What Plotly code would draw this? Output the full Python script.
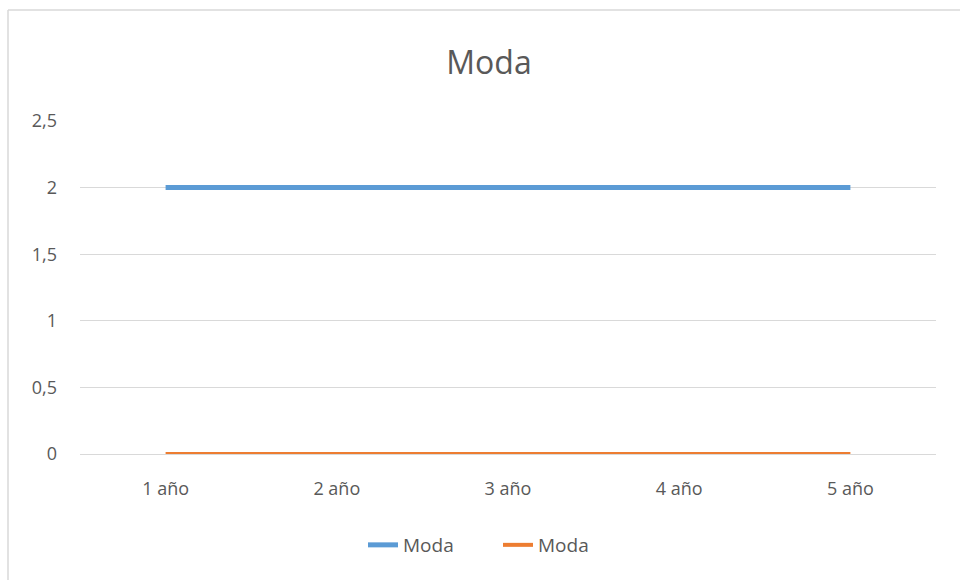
import plotly.graph_objects as go

categories = ["1 año", "2 año", "3 año", "4 año", "5 año"]
serie1 = [2, 2, 2, 2, 2]
serie2 = [0, 0, 0, 0, 0]
y_ticks = [0, 0.5, 1, 1.5, 2, 2.5]
y_labels = ["0", "0,5", "1", "1,5", "2", "2,5"]

FONT = "Open Sans"
fig = go.Figure()
fig.add_trace(go.Scatter(x=categories, y=serie1, mode="lines", name="Moda",
                         line=dict(color="#5B9BD5", width=5)))
fig.add_trace(go.Scatter(x=categories, y=serie2, mode="lines", name="Moda",
                         line=dict(color="#ED7D31", width=4)))

L, R, T, B = 80, 24, 121, 126
W, H = 960, 580
pw, ph = W - L - R, H - T - B
def px(x):
    return (x - L) / pw
def py(y):
    return (H - B - y) / ph

fig.update_layout(
    width=W, height=H,
    margin=dict(l=L, r=R, t=T, b=B),
    paper_bgcolor="white", plot_bgcolor="white",
    title=dict(text="Moda", x=489 / W, xanchor="center", y=1 - 63 / H, yanchor="middle",
               font=dict(family=FONT, size=32, color="#595959")),
    font=dict(family=FONT, size=18, color="#595959"),
    xaxis=dict(range=[-0.5, 4.5], showgrid=False, zeroline=False, showline=False,
               ticks="", ticklabelstandoff=22,
               tickfont=dict(family=FONT, size=18, color="#595959")),
    yaxis=dict(range=[0, 2.5], tickvals=y_ticks, ticktext=y_labels,
               showgrid=True, gridcolor="#D9D9D9", gridwidth=1,
               zeroline=True, zerolinecolor="#D9D9D9", zerolinewidth=1,
               showline=False, ticks="", ticklabelstandoff=22,
               tickfont=dict(family=FONT, size=18, color="#595959")),
    legend=dict(orientation="h", x=px(498), xanchor="center", y=py(545), yanchor="middle",
                font=dict(family=FONT, size=19, color="#595959"),
                entrywidth=90, entrywidthmode="pixels"),
    showlegend=True,
    shapes=[
        dict(type="line", xref="paper", yref="paper", x0=px(8), x1=px(8),
             y0=py(10), y1=py(H + 5), line=dict(color="#D9D9D9", width=1.5)),
        dict(type="line", xref="paper", yref="paper", x0=px(8), x1=px(W + 5),
             y0=py(10), y1=py(10), line=dict(color="#D9D9D9", width=1.5)),
    ],
)
fig.write_html("out.html")
